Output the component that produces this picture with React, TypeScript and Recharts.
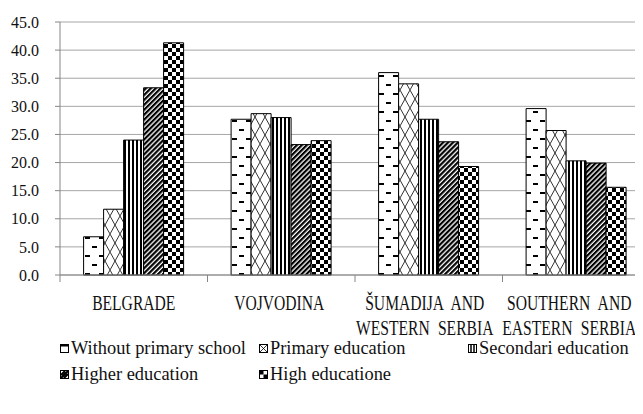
import React from 'react';
import { BarChart, Bar, XAxis, YAxis, CartesianGrid, Legend } from 'recharts';

// categories and tick labels
const regions = ['BELGRADE', 'VOJVODINA', 'ŠUMADIJA AND WESTERN SERBIA', 'SOUTHERN AND EASTERN SERBIA'];
const regionLines: Record<string, string[]> = {
  'BELGRADE': ['BELGRADE'],
  'VOJVODINA': ['VOJVODINA'],
  'ŠUMADIJA AND WESTERN SERBIA': ['ŠUMADIJA AND', 'WESTERN SERBIA'],
  'SOUTHERN AND EASTERN SERBIA': ['SOUTHERN AND', 'EASTERN SERBIA'],
};
const yTicks = [0, 5, 10, 15, 20, 25, 30, 35, 40, 45];

// series values (%)
const withoutPrimary = [6.8, 27.7, 36.0, 29.6];
const primary = [11.7, 28.7, 34.0, 25.7];
const secondary = [24.0, 28.0, 27.7, 20.3];
const higher = [33.3, 23.2, 23.7, 19.9];
const high = [41.3, 23.9, 19.3, 15.6];

const series = [
  { key: 'withoutPrimary', name: 'Without primary school', pattern: 'pDash' },
  { key: 'primary', name: 'Primary education', pattern: 'pLattice' },
  { key: 'secondary', name: 'Secondari education', pattern: 'pVert' },
  { key: 'higher', name: 'Higher education', pattern: 'pDiag' },
  { key: 'high', name: 'High educatione', pattern: 'pCheck' },
];

const data = regions.map((region, i) => ({
  region,
  withoutPrimary: withoutPrimary[i],
  primary: primary[i],
  secondary: secondary[i],
  higher: higher[i],
  high: high[i],
}));

const FONT = 'Liberation Serif, DejaVu Serif, serif';
const AXIS = '#868686';
// labels on the right drift a little left, as in the original
const labelShift = [0, -2, -4, -7];

function RegionTick(props: any) {
  const { x, y, payload, index, visibleTicksCount } = props;
  const lines = regionLines[payload.value] || [payload.value];
  const off = payload.offset || 0;
  return (
    <g>
      <line x1={x - off} x2={x - off} y1={y - 7} y2={y} stroke={AXIS} />
      {index === visibleTicksCount - 1 && (
        <line x1={x + off} x2={x + off} y1={y - 7} y2={y} stroke={AXIS} />
      )}
      <g transform={`translate(${x + (labelShift[index] || 0)},${y})`}>
        <text transform="scale(0.71,1)" textAnchor="middle" style={{ fontFamily: FONT }} fontSize={22} fill="#111" wordSpacing={6}>
          {lines.map((l, i) => (
            <tspan key={i} x={0} y={28 + i * 25}>{l}</tspan>
          ))}
        </text>
      </g>
    </g>
  );
}

function Icon({ kind }: { kind: string }) {
  return (
    <svg width={9} height={9} style={{ display: 'block' }}>
      <rect x={0.5} y={0.5} width={8} height={8} fill="#fff" stroke="#000" />
      {kind === 'pDash' && <rect x={1} y={1} width={7} height={1.5} fill="#000" />}
      {kind === 'pLattice' && (
        <path d="M1,1 L8,8 M8,1 L1,8" stroke="#000" strokeWidth={0.8} />
      )}
      {kind === 'pVert' && (
        <path d="M3,1 V8 M6,1 V8" stroke="#000" strokeWidth={1.5} />
      )}
      {kind === 'pDiag' && (
        <path d="M1,8 L8,1 M1,5 L5,1 M4,8 L8,4" stroke="#000" strokeWidth={2} />
      )}
      {kind === 'pCheck' && (
        <>
          <rect x={0.5} y={0.5} width={4} height={4} fill="#000" />
          <rect x={4.5} y={4.5} width={4} height={4} fill="#000" />
        </>
      )}
    </svg>
  );
}

// legend columns like the Excel legend (two rows)
const legendSlots = [
  { left: 60, top: 0 },
  { left: 259, top: 0 },
  { left: 468, top: 0 },
  { left: 60, top: 26 },
  { left: 259, top: 26 },
];

function renderLegend() {
  return (
    <div style={{ position: 'relative', height: 62, width: 643, fontFamily: FONT, fontSize: 18.4, color: '#111' }}>
      {series.map((s, i) => (
        <div
          key={s.key}
          style={{
            position: 'absolute',
            left: legendSlots[i].left,
            top: legendSlots[i].top + 2,
            height: 26,
            display: 'flex',
            alignItems: 'center',
            gap: 2,
            whiteSpace: 'nowrap',
          }}
        >
          <Icon kind={s.pattern} />
          <span>{s.name}</span>
        </div>
      ))}
    </div>
  );
}

export default function App() {
  return (
    <div style={{ margin: -8, width: 643, height: 414, overflow: 'hidden', background: '#fff', fontFamily: FONT }}>
      <BarChart
        width={660}
        height={414}
        data={data}
        margin={{ top: 22, right: 10, bottom: 19, left: 0 }}
        barCategoryGap="16%"
        barGap={0}
      >
        <defs>
          <pattern id="pDash" patternUnits="userSpaceOnUse" width={14} height={18}>
            <rect width={14} height={18} fill="#fff" />
            <rect x={1} y={3} width={5} height={2} fill="#000" />
            <rect x={8} y={12} width={5} height={2} fill="#000" />
          </pattern>
          <pattern id="pLattice" patternUnits="userSpaceOnUse" width={10} height={18}>
            <rect width={10} height={18} fill="#fff" />
            <path d="M0,0 L10,18 M10,0 L0,18" stroke="#000" strokeWidth={0.8} />
          </pattern>
          <pattern id="pVert" patternUnits="userSpaceOnUse" width={4} height={4}>
            <rect width={4} height={4} fill="#fff" />
            <rect width={2} height={4} fill="#000" />
          </pattern>
          <pattern id="pDiag" patternUnits="userSpaceOnUse" width={3.5} height={4} patternTransform="rotate(45)">
            <rect width={3.5} height={4} fill="#fff" />
            <rect width={2.2} height={4} fill="#000" />
          </pattern>
          <pattern id="pCheck" patternUnits="userSpaceOnUse" width={8} height={8}>
            <rect width={8} height={8} fill="#fff" />
            <rect width={4} height={4} fill="#000" />
            <rect x={4} y={4} width={4} height={4} fill="#000" />
          </pattern>
        </defs>
        <CartesianGrid vertical={false} stroke="#a6a6a6" />
        <XAxis
          dataKey="region"
          height={58}
          interval={0}
          axisLine={{ stroke: AXIS }}
          tickLine={false}
          tickSize={7}
          tickMargin={0}
          tick={<RegionTick />}
        />
        <YAxis
          width={60}
          domain={[0, 45]}
          ticks={yTicks}
          interval={0}
          tickFormatter={(v: number) => v.toFixed(1)}
          axisLine={{ stroke: AXIS }}
          tickLine={{ stroke: AXIS }}
          tickSize={5}
          tickMargin={16}
          tick={{ fontSize: 16, fill: '#111', style: { fontFamily: FONT } }}
        />
        <Legend verticalAlign="bottom" content={renderLegend} wrapperStyle={{ left: 0, width: 643 }} />
        {series.map((s) => (
          <Bar
            key={s.key}
            dataKey={s.key}
            name={s.name}
            fill={`url(#${s.pattern})`}
            stroke="#000"
            strokeWidth={1}
            isAnimationActive={false}
          />
        ))}
      </BarChart>
    </div>
  );
}
